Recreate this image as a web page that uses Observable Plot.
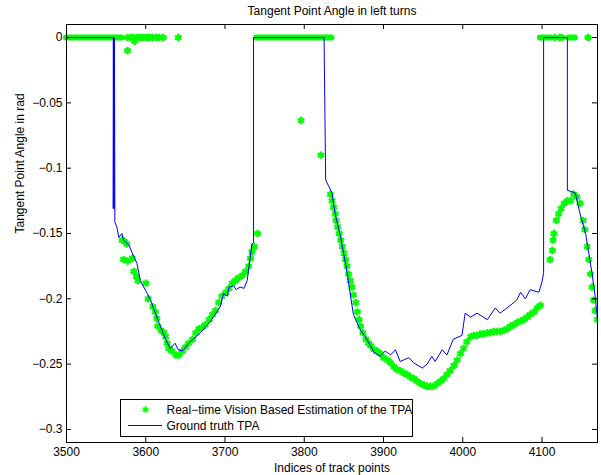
<!DOCTYPE html>
<html><head><meta charset="utf-8">
<script src="https://cdn.jsdelivr.net/npm/d3@7"></script>
<script src="https://cdn.jsdelivr.net/npm/@observablehq/plot@0.6"></script>
<style>
body{margin:0;background:#fff;}
#wrap{position:relative;width:601px;height:475px;font-family:"Liberation Sans",Arial,sans-serif;}
#legend{position:absolute;left:120px;top:399px;}
</style></head><body><div id="wrap"></div>
<script>
// ---- data ----
const titleText = "Tangent Point Angle in left turns";
const xLabelText = "Indices of track points";
const yLabelText = "Tangent Point Angle in rad";
const legendLabels = ["Real\u2212time Vision Based Estimation of the TPA", "Ground truth TPA"];

const xTicks = [3500, 3600, 3700, 3800, 3900, 4000, 4100];
const yTicks = [0, -0.05, -0.1, -0.15, -0.2, -0.25, -0.3];
const yTickLabels = ["0", "\u22120.05", "\u22120.1", "\u22120.15", "\u22120.2", "\u22120.25", "\u22120.3"];

// ground truth TPA (blue line)
const truthX = [3500,3559,3559,3559.5,3560,3560.5,3561,3561,3564,3566,3570,3572,3579,3583,3589,3593,3602,3606,3614,3619,3625,3631,3637,3641,3646,3656,3669,3682,3694,3698,3703,3705,3711,3714,3719,3724,3728,3732,3734,3736,3736,
  3825,3827,3835,3839,3846,3854,3862,3871,3879,3888,3896,3902,3909,3915,3921,3932,3938,3949,3955,3961,3965,3974,3980,3988,3999,4003,4010,4018,4031,4041,4047,4060,4068,4073,4079,4085,4096,4100,4102,4102,
  4132,4132,4138,4142,4148,4155,4159,4163,4167,4170];
const truthY = [0,0,-0.131,0,-0.131,0,-0.131,-0.141,-0.146,-0.153,-0.150,-0.155,-0.159,-0.165,-0.173,-0.186,-0.196,-0.201,-0.214,-0.222,-0.231,-0.238,-0.234,-0.239,-0.240,-0.233,-0.226,-0.217,-0.206,-0.196,-0.198,-0.191,-0.190,-0.193,-0.191,-0.192,-0.186,-0.167,-0.158,-0.157,0,
  0,-0.109,-0.119,-0.135,-0.153,-0.180,-0.212,-0.224,-0.231,-0.241,-0.244,-0.240,-0.243,-0.239,-0.248,-0.245,-0.249,-0.253,-0.250,-0.244,-0.248,-0.239,-0.243,-0.231,-0.228,-0.211,-0.214,-0.211,-0.216,-0.207,-0.211,-0.205,-0.201,-0.195,-0.200,-0.193,-0.195,-0.187,-0.180,0,
  0,-0.117,-0.118,-0.119,-0.135,-0.150,-0.165,-0.180,-0.198,-0.216];

// vision estimate: runs of consecutive zero estimates
const zeroRunStart = [3500, 3740, 4098, 4134];
const zeroRunEnd   = [3570, 3835, 4111, 4142];

// vision estimate: individual points
const estX = [
  3577,3581,3584,3588,3591,3594,3597,3600,3603,3606,3609,3613,3617,3622,3641,
  3577,3586,
  3570,3573,3576,3572,3577,3583,3585,3588,3590,3600,3603,3609,3612,3614,3615,3619,3623,3625,3627,3629,3633,3638,3642,3646,3650,3654,3659,3663,3667,3671,3675,3680,3684,3688,3692,3696,3701,3705,3709,3713,3717,3722,3726,3730,3732,3734,3737,3741,
  3796,3821,
  3833,3835,3837,3839,3840,3842,3844,3846,3848,3850,3852,3854,3856,3858,3860,3862,3865,3867,3869,3871,3874,3878,3881,3884,
  3888,3892,3896,3900,3905,3909,3913,3917,3921,3926,3930,3934,3938,3942,3947,3951,3955,3959,3963,3968,3972,3976,3980,3984,3989,3993,3997,4001,4005,4010,4014,4018,4022,4026,4031,4035,4039,4043,4047,4052,4056,4060,4064,4069,4073,4077,4081,4085,4090,4094,4098,
  4116,4122,4125,4158,
  4110,4113,4114,4115,4118,4121,4124,4128,4132,4136,4140,4144,4148,4152,4154,4157,4159,4161,4163,4165,4167,4170];
const estY = [
  0,0,0,0,0,0,0,0,0,0,0,0,0,0,0,
  -0.010,-0.003,
  -0.155,-0.156,-0.158,-0.170,-0.171,-0.169,-0.179,-0.183,-0.186,-0.188,-0.200,-0.206,-0.210,-0.215,-0.221,-0.224,-0.226,-0.229,-0.234,-0.238,-0.240,-0.243,-0.243,-0.240,-0.237,-0.234,-0.231,-0.226,-0.223,-0.222,-0.220,-0.216,-0.212,-0.209,-0.203,-0.198,-0.195,-0.192,-0.188,-0.186,-0.184,-0.182,-0.179,-0.175,-0.169,-0.164,-0.160,-0.150,
  -0.0635,-0.090,
  -0.120,-0.125,-0.130,-0.135,-0.140,-0.145,-0.150,-0.155,-0.160,-0.165,-0.170,-0.175,-0.181,-0.186,-0.191,-0.197,-0.203,-0.210,-0.216,-0.221,-0.226,-0.231,-0.234,-0.236,
  -0.239,-0.240,-0.242,-0.245,-0.247,-0.249,-0.252,-0.254,-0.255,-0.257,-0.258,-0.260,-0.261,-0.263,-0.265,-0.266,-0.267,-0.267,-0.267,-0.265,-0.263,-0.261,-0.258,-0.255,-0.251,-0.247,-0.242,-0.238,-0.233,-0.229,-0.228,-0.228,-0.227,-0.227,-0.226,-0.226,-0.225,-0.225,-0.225,-0.224,-0.223,-0.221,-0.220,-0.218,-0.217,-0.216,-0.214,-0.212,-0.210,-0.207,-0.205,
  0,0,0,0,
  -0.170,-0.163,-0.155,-0.150,-0.140,-0.135,-0.131,-0.127,-0.125,-0.125,-0.120,-0.122,-0.127,-0.140,-0.147,-0.160,-0.170,-0.181,-0.191,-0.201,-0.209,-0.216];

// ---- build ----
const green = "#00ff00", blue = "#0000ff";
const truth = truthX.map((x, i) => ({x, y: truthY[i]}));
const est = estX.map((x, i) => ({x, y: estY[i]}));
const runs = zeroRunStart.map((s, i) => ({x1: s, x2: zeroRunEnd[i], y: 0}));
const yLabelMap = new Map(yTicks.map((t, i) => [t, yTickLabels[i]]));

const W = 601, H = 475, mL = 66, mR = 4, mT = 24, mB = 33;
const fw = W - mL - mR, fh = H - mT - mB, tk = 5;
const font = "'Liberation Sans', Arial, Helvetica, sans-serif";

const chart = Plot.plot({
  width: W, height: H,
  marginLeft: mL, marginRight: mR, marginTop: mT, marginBottom: mB,
  style: {fontFamily: font, fontSize: "12px", background: "#fff", color: "#000", overflow: "visible"},
  x: {domain: [3500, 4170]},
  y: {domain: [-0.31, 0.01]},
  marks: [
    Plot.ruleY(runs, {y: "y", x1: "x1", x2: "x2", stroke: green, strokeWidth: 6, strokeLinecap: "round"}),
    Plot.dot(est, {x: "x", y: "y", symbol: "asterisk", r: 3.5, stroke: green, strokeWidth: 2.3, clip: true}),
    Plot.line(truth, {x: "x", y: "y", stroke: blue, strokeWidth: 1, clip: true}),
    Plot.frame({stroke: "#000", strokeWidth: 1}),
    Plot.ruleX(xTicks, {insetTop: fh - tk, stroke: "#000"}),
    Plot.ruleX(xTicks, {insetBottom: fh - tk, stroke: "#000"}),
    Plot.ruleY(yTicks, {insetRight: fw - tk, stroke: "#000"}),
    Plot.ruleY(yTicks, {insetLeft: fw - tk, stroke: "#000"}),
    Plot.axisX(xTicks, {tickSize: 0, tickPadding: 5, tickFormat: d => String(d), label: null}),
    Plot.axisY(yTicks, {tickSize: 0, tickPadding: 4, tickFormat: d => yLabelMap.get(d), label: null}),
    Plot.text([titleText], {text: d => d, frameAnchor: "top", dy: -13, lineAnchor: "middle"}),
    Plot.text([xLabelText], {text: d => d, frameAnchor: "bottom", dy: 26, lineAnchor: "middle"}),
    Plot.text([yLabelText], {text: d => d, frameAnchor: "left", dx: -46, rotate: -90, lineAnchor: "middle"})
  ]
});
const wrap = document.getElementById("wrap");
wrap.appendChild(chart);

// legend (inside the axes box, bottom-left)
const lg = d3.select(wrap).append("svg").attr("id", "legend")
  .attr("width", 294).attr("height", 39)
  .style("font-family", font).style("font-size", "12px");
lg.append("rect").attr("x", 0.5).attr("y", 0.5).attr("width", 292).attr("height", 37)
  .attr("fill", "#fff").attr("stroke", "#000").attr("stroke-width", 1);
lg.append("path").attr("d", d3.symbol(d3.symbolAsterisk, 28)())
  .attr("transform", "translate(25.5,10.5)").attr("stroke", green).attr("stroke-width", 1.8).attr("fill", "none");
lg.append("line").attr("x1", 8).attr("x2", 42).attr("y1", 26.5).attr("y2", 26.5)
  .attr("stroke", blue).attr("stroke-width", 1);
lg.append("text").attr("x", 46.5).attr("y", 14.5).text(legendLabels[0]);
lg.append("text").attr("x", 46.5).attr("y", 30.5).text(legendLabels[1]);
</script></body></html>
